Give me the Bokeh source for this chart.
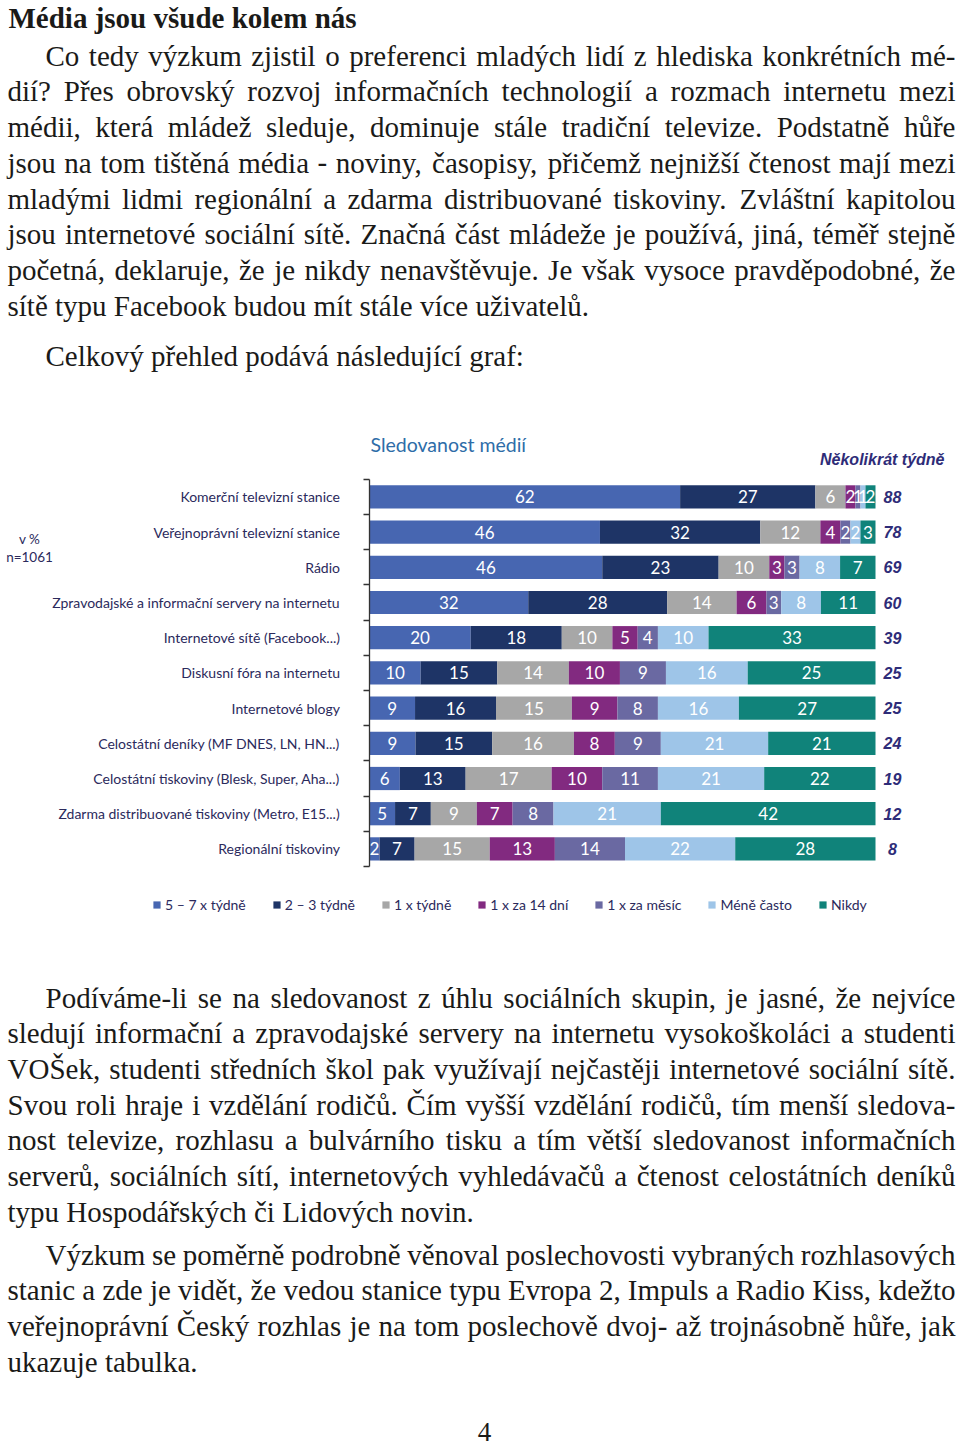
import unicodedata
from bokeh.plotting import figure
from bokeh.models import (ColumnDataSource, Range1d, LinearAxis, FixedTicker,
                          Legend, LegendItem)
from bokeh.core.properties import value
from bokeh.embed import file_html
from bokeh.resources import INLINE

# ---------------- chart data ----------------
categories = [
    "Komerční televizní stanice",
    "Veřejnoprávní televizní stanice",
    "Rádio",
    "Zpravodajské a informační servery na internetu",
    "Internetové sítě (Facebook...)",
    "Diskusní fóra na internetu",
    "Internetové blogy",
    "Celostátní deníky (MF DNES, LN, HN...)",
    "Celostátní tiskoviny (Blesk, Super, Aha...)",
    "Zdarma distribuované tiskoviny (Metro, E15...)",
    "Regionální tiskoviny",
]
series_names = ["5 – 7 x týdně", "2 – 3 týdně", "1 x týdně", "1 x za 14 dní",
                "1 x za měsíc", "Méně často", "Nikdy"]
s_5_7_tydne = [62, 46, 46, 32, 20, 10, 9, 9, 6, 5, 2]
s_2_3_tydne = [27, 32, 23, 28, 18, 15, 16, 15, 13, 7, 7]
s_1_tydne = [6, 12, 10, 14, 10, 14, 15, 16, 17, 9, 15]
s_1_za_14_dni = [2, 4, 3, 6, 5, 10, 9, 8, 10, 7, 13]
s_1_za_mesic = [1, 2, 3, 3, 4, 9, 8, 9, 11, 8, 14]
s_mene_casto = [1, 2, 8, 8, 10, 16, 16, 21, 21, 21, 22]
s_nikdy = [2, 3, 7, 11, 33, 25, 27, 21, 22, 42, 28]
nekolikrat_tydne = [88, 78, 69, 60, 39, 25, 25, 24, 19, 12, 8]
series_colors = ["#4766B1", "#1E3466", "#A7A7A7", "#822A80", "#6A69A2",
                 "#9EC5E8", "#10837A"]

# ---------------- page text ----------------
heading = "Média jsou všude kolem nás"
para1 = [
    "Co tedy výzkum zjistil o preferenci mladých lidí z hlediska konkrétních mé-",
    "dií? Přes obrovský rozvoj informačních technologií a rozmach internetu mezi",
    "médii, která mládež sleduje, dominuje stále tradiční televize. Podstatně hůře",
    "jsou na tom tištěná média - noviny, časopisy, přičemž nejnižší čtenost mají mezi",
    "mladými lidmi regionální a zdarma distribuované tiskoviny. Zvláštní kapitolou",
    "jsou internetové sociální sítě. Značná část mládeže je používá, jiná, téměř stejně",
    "početná, deklaruje, že je nikdy nenavštěvuje. Je však vysoce pravděpodobné, že",
    "sítě typu Facebook budou mít stále více uživatelů.",
]
para2 = ["Celkový přehled podává následující graf:"]
para3 = [
    "Podíváme-li se na sledovanost z úhlu sociálních skupin, je jasné, že nejvíce",
    "sledují informační a zpravodajské servery na internetu vysokoškoláci a studenti",
    "VOŠek, studenti středních škol pak využívají nejčastěji internetové sociální sítě.",
    "Svou roli hraje i vzdělání rodičů. Čím vyšší vzdělání rodičů, tím menší sledova-",
    "nost televize, rozhlasu a bulvárního tisku a tím větší sledovanost informačních",
    "serverů, sociálních sítí, internetových vyhledávačů a čtenost celostátních deníků",
    "typu Hospodářských či Lidových novin.",
]
para4 = [
    "Výzkum se poměrně podrobně věnoval poslechovosti vybraných rozhlasových",
    "stanic a zde je vidět, že vedou stanice typu Evropa 2, Impuls a Radio Kiss, kdežto",
    "veřejnoprávní Český rozhlas je na tom poslechově dvoj- až trojnásobně hůře, jak",
    "ukazuje tabulka.",
]
page_number = "4"

# Times-compatible advance widths (per 1000 em), used only to justify lines
_W = dict(zip("abcdefghijklmnopqrstuvwxyz",
              [444, 500, 444, 500, 444, 333, 500, 500, 278, 278, 500, 278, 778,
               500, 500, 500, 500, 333, 389, 278, 500, 500, 722, 500, 500, 444]))
_W.update(zip("ABCDEFGHIJKLMNOPQRSTUVWXYZ",
              [722, 667, 667, 722, 611, 556, 722, 722, 333, 389, 722, 611, 889,
               722, 722, 556, 722, 667, 556, 611, 722, 722, 944, 722, 722, 611]))
_W.update({c: 500 for c in "0123456789"})
_W.update({" ": 250, ".": 250, ",": 250, ":": 278, ";": 278, "?": 444,
           "!": 333, "-": 333, "(": 333, ")": 333, "–": 500, "%": 833})


def char_w(c):
    b = unicodedata.normalize("NFD", c)[0]
    return _W.get(b, 500)


BODY_SIZE = 29.0
LEFT, RIGHT, INDENT = 7.0, 955.0, 45.0


def layout_para(lines, first_baseline, leading, xs, ys, ts):
    for k, line in enumerate(lines):
        x0 = INDENT if k == 0 else LEFT
        words = line.split(" ")
        widths = [BODY_SIZE * sum(char_w(c) for c in w) / 1000.0 for w in words]
        last = (k == len(lines) - 1)
        if not last and len(words) > 1:
            gap = (RIGHT - x0 - sum(widths)) / (len(words) - 1)
        else:
            gap = 0.25 * BODY_SIZE
        x = x0
        y = first_baseline + k * leading
        for w, wd in zip(words, widths):
            xs.append(x)
            ys.append(y)
            ts.append(w)
            x += wd + gap


TEXT_COLOR = "#1a1a18"
NAVY = "#2B2A5C"
W, H = 960, 1448

p = figure(width=W, height=H, x_range=Range1d(0, W), y_range=Range1d(H, 0),
           x_axis_location=None, y_axis_location=None, min_border=0,
           toolbar_location=None, output_backend="svg",
           outline_line_color=None, background_fill_color="white",
           border_fill_color="white")
p.xgrid.visible = False
p.ygrid.visible = False

# ---------- page text ----------
p.text(x=[LEFT + 1], y=[17], text=[heading], text_font=value("Liberation Serif"),
       text_font_style="bold", text_font_size="29px", text_color=TEXT_COLOR,
       text_baseline="alphabetic", text_align="left")
xs, ys, ts = [], [], []
layout_para(para1, 55.0, 35.75, xs, ys, ts)
layout_para(para2, 355.0, 35.75, xs, ys, ts)
layout_para(para3, 997.0, 35.7, xs, ys, ts)
layout_para(para4, 1254.0, 35.7, xs, ys, ts)
p.text(x="x", y="y", text="t", source=ColumnDataSource(dict(x=xs, y=ys, t=ts)),
       text_font=value("Liberation Serif"), text_font_size=f"{BODY_SIZE}px",
       text_color=TEXT_COLOR, text_baseline="alphabetic", text_align="left")
p.text(x=[484], y=[1431], text=[page_number], text_font=value("Liberation Serif"),
       text_font_size="27px", text_color=TEXT_COLOR,
       text_baseline="alphabetic", text_align="center")

# ---------- chart (own scales: percent x, category y) ----------
BAR_LEFT, BAR_RIGHT = 369.0, 875.0
PX_PER_PCT = (BAR_RIGHT - BAR_LEFT) / 100.0
ROW_PX = 35.2
ROW_TOP = 478.8


def cx(page_x):
    return (page_x - BAR_LEFT) / PX_PER_PCT


def cy(page_y):
    return 0.5 + (page_y - ROW_TOP) / ROW_PX


p.extra_x_ranges = {"pct": Range1d(cx(0), cx(W))}
p.extra_y_ranges = {"cat": Range1d(cy(H), cy(0))}

rows = list(range(1, len(categories) + 1))
all_series = [s_5_7_tydne, s_2_3_tydne, s_1_tydne, s_1_za_14_dni,
              s_1_za_mesic, s_mene_casto, s_nikdy]
totals = [sum(s[i] for s in all_series) for i in range(len(categories))]

cum = [0.0] * len(categories)
renderers = []
lx, ly, lt = [], [], []
for s, color in zip(all_series, series_colors):
    left = [cum[i] / totals[i] * 100 for i in range(len(categories))]
    for i in range(len(categories)):
        cum[i] += s[i]
    right = [cum[i] / totals[i] * 100 for i in range(len(categories))]
    src = ColumnDataSource(dict(y=rows, left=left, right=right, v=s))
    r = p.hbar(y="y", left="left", right="right", height=0.66, source=src,
               fill_color=color, line_color=None,
               x_range_name="pct", y_range_name="cat")
    renderers.append(r)
    for i in range(len(categories)):
        lx.append((left[i] + right[i]) / 2)
        ly.append(rows[i])
        lt.append(str(s[i]))

p.text(x="x", y="y", text="t", source=ColumnDataSource(dict(x=lx, y=ly, t=lt)),
       text_color="white", text_font=value("Lato"), text_font_size="17px",
       text_align="center", text_baseline="middle",
       x_range_name="pct", y_range_name="cat")

p.text(x=[cx(892)] * len(rows), y=rows, text=[str(v) for v in nekolikrat_tydne],
       text_color="#2E2C78", text_font=value("Liberation Sans"),
       text_font_style="bold italic", text_font_size="16px",
       text_align="center", text_baseline="middle",
       x_range_name="pct", y_range_name="cat")
p.text(x=[944], y=[459], text=["Několikrát týdně"],
       text_color="#2E2C78", text_font=value("Liberation Sans"),
       text_font_style="bold italic", text_font_size="16px",
       text_align="right", text_baseline="middle")
p.text(x=[370], y=[444], text=["Sledovanost médií"],
       text_color="#2E6DA8", text_font=value("Lato"), text_font_size="19.5px",
       text_align="left", text_baseline="middle")
p.text(x=[29, 29], y=[538, 556], text=["v %", "n=1061"],
       text_color=NAVY, text_font=value("Lato"), text_font_size="13.5px",
       text_align="center", text_baseline="middle")

axis = LinearAxis(
    x_range_name="default", y_range_name="cat",
    fixed_location=BAR_LEFT - 0.5,
    ticker=FixedTicker(ticks=rows, minor_ticks=[i + 0.5 for i in range(0, 12)]),
    major_label_overrides={r: c for r, c in zip(rows, categories)},
    bounds=(0.5, 11.5),
    axis_line_color="#333333", axis_line_width=1.3,
    major_tick_line_color=None, major_tick_in=0, major_tick_out=0,
    minor_tick_line_color="#333333", minor_tick_line_width=1.3,
    minor_tick_in=0, minor_tick_out=6,
    major_label_standoff=23,
    major_label_text_font="Lato", major_label_text_font_size="14px",
    major_label_text_color=NAVY,
)
p.add_layout(axis, "left")

legend = Legend(
    items=[LegendItem(label=n, renderers=[r]) for n, r in zip(series_names, renderers)],
    orientation="horizontal", location=(152, H - 913),
    glyph_width=9, glyph_height=9, label_standoff=4, spacing=26,
    padding=0, margin=0, border_line_color=None, background_fill_alpha=0,
    label_text_font="Lato", label_text_font_size="14px",
    label_text_color=NAVY,
)
p.add_layout(legend)

open("out.html", "w").write(file_html(p, INLINE))
